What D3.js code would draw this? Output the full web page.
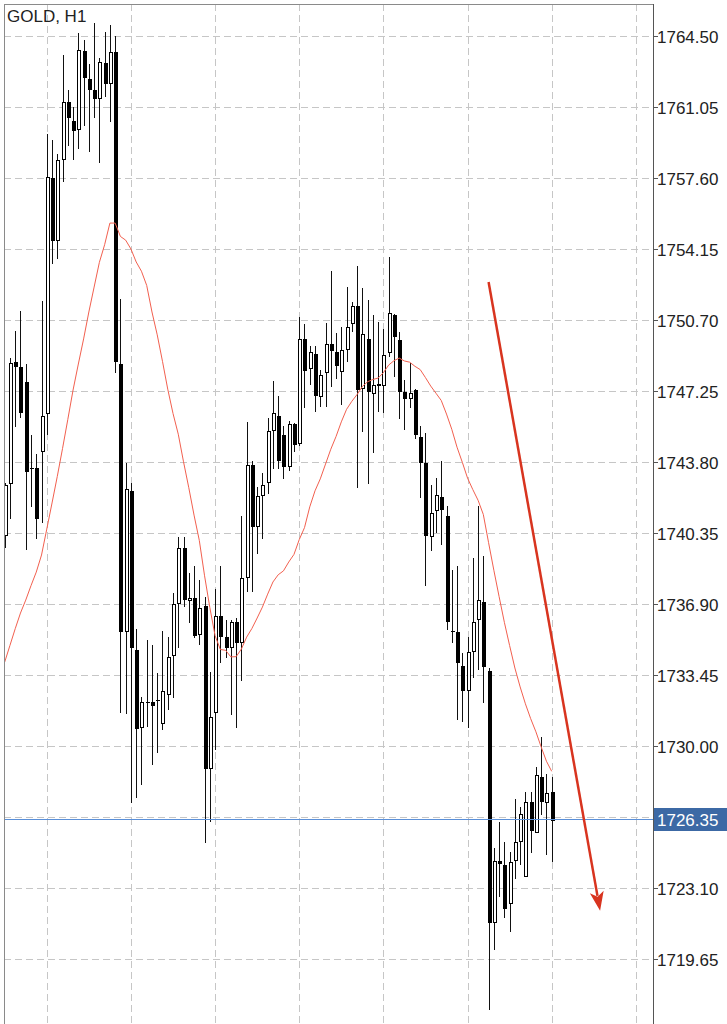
<!DOCTYPE html>
<html>
<head>
<meta charset="utf-8">
<script src="https://cdnjs.cloudflare.com/ajax/libs/d3/7.8.5/d3.min.js"></script>
<style>
  body { margin: 0; background: #fff; }
  svg { display: block; }
</style>
</head>
<body>
<script>
// GOLD H1 bars, oldest first
var opens = [1740.20,1742.73,1748.66,1748.43,1747.69,1743.50,1743.49,1744.30,1746.11,1757.59,
             1754.55,1758.47,1761.31,1760.38,1759.93,1763.79,1762.41,1761.88,1761.42,1763.17,
             1762.15,1763.71,1748.56,1735.56,1742.39,1734.67,1730.86,1732.15,1732.15,1732.19,
             1731.06,1732.48,1734.37,1736.90,1739.64,1737.05,1737.18,1735.37,1736.80,1728.90,
             1731.59,1736.32,1735.28,1734.75,1736.04,1735.02,1738.16,1743.64,1740.66,1742.14,
             1742.77,1745.31,1746.04,1745.12,1743.58,1745.65,1744.66,1749.78,1748.31,1749.03,
             1746.97,1748.14,1749.53,1749.13,1748.19,1749.24,1750.50,1751.38,1747.33,1749.80,
             1747.10,1747.59,1747.49,1749.08,1750.94,1749.73,1747.22,1746.86,1747.30,1745.03,
             1743.77,1740.17,1741.42,1742.11,1741.18,1735.56,1735.56,1733.89,1732.69,1734.58,
             1736.12,1737.01,1733.66,1721.42,1724.43,1724.22,1722.32,1724.43,1725.35,1723.65,
             1727.26,1725.79,1728.51,1727.25,1727.75];
var highs = [1742.80,1748.85,1750.17,1751.14,1748.55,1745.11,1744.19,1751.62,1759.76,1759.45,
             1758.77,1763.58,1761.88,1761.06,1764.63,1764.31,1763.13,1765.15,1763.42,1764.71,
             1765.03,1764.50,1751.72,1743.75,1742.76,1735.69,1732.40,1735.13,1734.89,1733.56,
             1735.60,1735.31,1737.42,1740.14,1740.14,1738.40,1738.75,1738.06,1737.26,1733.59,
             1737.62,1738.77,1736.10,1736.12,1736.20,1741.20,1745.75,1743.83,1742.58,1743.25,
             1745.94,1747.73,1747.00,1745.56,1745.81,1745.69,1750.83,1750.51,1749.44,1749.44,
             1748.27,1750.54,1753.08,1750.05,1750.35,1752.31,1751.59,1753.34,1752.27,1751.67,
             1750.94,1750.62,1750.25,1753.75,1751.00,1750.13,1747.78,1748.60,1747.35,1745.55,
             1745.23,1742.68,1743.01,1743.86,1741.66,1738.55,1738.75,1734.53,1735.31,1739.12,
             1741.66,1739.23,1733.81,1725.02,1726.32,1725.35,1724.87,1727.41,1727.05,1727.78,
             1727.78,1728.99,1730.42,1728.64,1728.51];
var lows = [1739.60,1741.03,1745.50,1745.95,1739.52,1741.63,1740.04,1740.82,1745.11,1753.43,
            1753.68,1757.42,1759.17,1758.47,1759.01,1760.13,1758.85,1760.50,1758.34,1761.55,
            1760.30,1748.11,1731.62,1731.54,1727.25,1727.46,1728.11,1730.94,1729.08,1729.68,
            1730.78,1731.75,1732.32,1734.75,1736.77,1736.00,1735.25,1734.93,1725.27,1726.30,
            1729.80,1734.03,1734.30,1731.50,1730.86,1733.15,1737.49,1737.49,1739.31,1740.08,
            1742.23,1743.44,1743.44,1742.96,1743.35,1744.31,1744.60,1746.41,1747.54,1746.25,
            1746.49,1746.49,1747.46,1747.82,1746.57,1748.67,1750.10,1742.52,1745.27,1742.71,
            1744.22,1746.25,1746.17,1748.91,1747.95,1745.88,1745.36,1746.41,1744.90,1742.04,
            1737.77,1739.49,1740.34,1739.77,1735.64,1735.00,1731.28,1731.18,1730.86,1733.29,
            1733.69,1732.08,1717.17,1720.09,1722.68,1721.63,1720.98,1723.52,1724.22,1723.65,
            1724.82,1725.79,1726.65,1724.70,1724.38];
var closes = [1742.70,1748.61,1748.42,1746.20,1743.33,1743.45,1741.02,1746.05,1757.65,1754.55,
              1758.47,1761.31,1760.50,1759.90,1763.82,1762.45,1761.88,1761.42,1763.22,1762.15,
              1763.71,1748.65,1735.54,1742.51,1734.78,1730.81,1732.12,1732.10,1731.96,1732.24,
              1732.69,1734.34,1736.90,1739.64,1737.09,1737.20,1735.35,1736.72,1728.87,1731.39,
              1736.33,1735.28,1734.75,1736.04,1735.02,1738.15,1743.67,1740.66,1742.14,1742.68,
              1745.31,1746.19,1743.83,1743.54,1745.65,1744.64,1749.78,1748.22,1749.13,1746.99,
              1748.02,1749.53,1749.21,1748.46,1749.24,1750.38,1751.38,1747.30,1750.00,1747.22,
              1747.54,1747.49,1748.99,1751.06,1749.89,1747.22,1746.86,1747.14,1745.11,1743.74,
              1740.20,1741.34,1742.20,1741.47,1736.04,1735.58,1734.02,1732.69,1734.58,1736.04,
              1737.09,1733.83,1721.42,1724.41,1724.27,1722.07,1724.38,1725.35,1726.70,1727.26,
              1725.87,1728.59,1727.26,1727.73,1726.35];
// red moving average, one value per bar
var ma20 = [1734.08,1734.89,1735.70,1736.46,1737.09,1737.79,1738.45,1739.28,1740.54,1741.81,
            1743.10,1744.46,1745.87,1747.30,1748.56,1749.78,1751.09,1752.30,1753.50,1754.36,
            1755.41,1755.41,1754.76,1754.58,1754.15,1753.52,1753.07,1752.38,1751.09,1749.98,
            1748.69,1747.34,1746.16,1745.15,1743.81,1742.55,1741.22,1739.99,1738.27,1736.73,
            1735.36,1734.69,1734.65,1734.33,1734.34,1734.71,1735.29,1735.71,1736.22,1736.75,
            1737.38,1737.97,1738.32,1738.51,1738.94,1739.31,1740.03,1740.61,1741.62,1742.40,
            1742.98,1743.70,1744.42,1745.04,1745.75,1746.36,1746.75,1747.08,1747.47,1747.70,
            1747.81,1747.88,1748.14,1748.51,1748.72,1748.85,1748.71,1748.65,1748.45,1748.29,
            1747.90,1747.49,1747.14,1746.79,1746.13,1745.39,1744.52,1743.79,1743.02,1742.46,
            1741.94,1741.25,1739.88,1738.54,1737.26,1736.01,1734.88,1733.79,1732.87,1732.05,
            1731.33,1730.69,1729.95,1729.26,1728.77];

var priceTicks = [1764.50,1761.05,1757.60,1754.15,1750.70,1747.25,1743.80,1740.35,
                  1736.90,1733.45,1730.00,1726.55,1723.10,1719.65];
var gridBars = [8,24,40,56,72,88,104,120];
var title = "GOLD, H1";
var lastPrice = 1726.35;
var arrowFrom = [92, 1752.55],   // [bar, price]
    arrowTo = [113.2, 1722.0];

var width = 727,
    height = 1024,
    plotLeft = 4,
    plotTop = 4,
    axisX = 653;

var x = d3.scaleLinear().domain([0, 104]).range([4.7, 551.7]);
var y = d3.scaleLinear().domain([1719.65, 1764.50]).range([959, 36]);

function px(v){ return Math.round(v) + 0.5; }

var svg = d3.select("body")
            .append("svg")
            .attr("width", width)
            .attr("height", height)
            .style("font-family", "'Liberation Sans', Arial, sans-serif");

svg.append("defs").append("clipPath")
   .attr("id", "clip")
   .append("rect")
   .attr("x", plotLeft).attr("y", plotTop)
   .attr("width", axisX - plotLeft).attr("height", height - plotTop);

// grid
var grid = svg.append("g")
              .attr("stroke", "#c6c6c6")
              .attr("stroke-dasharray", "7,4")
              .attr("shape-rendering", "crispEdges");

grid.selectAll(".hgrid")
    .data(priceTicks)
    .enter()
    .append("line")
    .attr("x1", plotLeft).attr("x2", axisX)
    .attr("y1", function(d){ return px(y(d)); })
    .attr("y2", function(d){ return px(y(d)); });

grid.selectAll(".vgrid")
    .data(gridBars)
    .enter()
    .append("line")
    .attr("x1", function(d){ return px(x(d)); })
    .attr("x2", function(d){ return px(x(d)); })
    .attr("y1", plotTop).attr("y2", height);

// candles
var bars = d3.range(opens.length).map(function(i){
  return {i: i, o: opens[i], h: highs[i], l: lows[i], c: closes[i]};
});

var plot = svg.append("g").attr("clip-path", "url(#clip)");

plot.selectAll(".wick")
    .data(bars)
    .enter()
    .append("line")
    .attr("class", "wick")
    .attr("x1", function(d){ return px(x(d.i)); })
    .attr("x2", function(d){ return px(x(d.i)); })
    .attr("y1", function(d){ return Math.round(y(d.h)); })
    .attr("y2", function(d){ return Math.round(y(d.l)); })
    .attr("stroke", "#111")
    .attr("shape-rendering", "crispEdges");

bars.forEach(function(d){
  var c = Math.round(x(d.i)),
      yTop = Math.round(y(Math.max(d.o, d.c))),
      yBot = Math.round(y(Math.min(d.o, d.c)));
  if (yBot - yTop < 2) {
    // doji
    plot.append("rect")
        .attr("x", c - 1).attr("y", yTop).attr("width", 4).attr("height", Math.max(1, yBot - yTop))
        .attr("fill", "#000");
  } else if (d.c < d.o) {
    plot.append("rect")
        .attr("x", c - 1).attr("y", yTop).attr("width", 4).attr("height", yBot - yTop)
        .attr("fill", "#000");
  } else {
    plot.append("rect")
        .attr("x", c - 0.5).attr("y", yTop + 0.5).attr("width", 3).attr("height", yBot - yTop - 1)
        .attr("fill", "#fff").attr("stroke", "#000").attr("stroke-width", 1);
  }
});

// moving average
var maLine = d3.line()
               .x(function(d, i){ return x(i); })
               .y(function(d){ return y(d); });

plot.append("path")
    .datum(ma20)
    .attr("d", maLine)
    .attr("fill", "none")
    .attr("stroke", "#f2604f")
    .attr("stroke-width", 1);

// last price line
var ly = px(y(lastPrice)) - 2;
plot.append("line")
    .attr("x1", plotLeft).attr("x2", axisX)
    .attr("y1", ly).attr("y2", ly)
    .attr("stroke", "#5a8fd8")
    .attr("shape-rendering", "crispEdges");

// trend arrow
var ax0 = x(arrowFrom[0]), ay0 = y(arrowFrom[1]),
    ax1 = x(arrowTo[0]), ay1 = y(arrowTo[1]);
var ang = Math.atan2(ay1 - ay0, ax1 - ax0),
    headLen = 19, headHalf = 7;
var bx = ax1 - headLen * Math.cos(ang), by = ay1 - headLen * Math.sin(ang);

plot.append("line")
    .attr("x1", ax0).attr("y1", ay0)
    .attr("x2", bx + 4 * Math.cos(ang)).attr("y2", by + 4 * Math.sin(ang))
    .attr("stroke", "#d8341f")
    .attr("stroke-width", 2.5);

plot.append("path")
    .attr("d", "M" + ax1 + "," + ay1 +
               "L" + (bx - headHalf * Math.sin(ang)) + "," + (by + headHalf * Math.cos(ang)) +
               "L" + (bx + 5 * Math.cos(ang)) + "," + (by + 5 * Math.sin(ang)) +
               "L" + (bx + headHalf * Math.sin(ang)) + "," + (by - headHalf * Math.cos(ang)) + "Z")
    .attr("fill", "#d8341f");

// frame and price axis
svg.append("line")
   .attr("x1", plotLeft).attr("x2", axisX)
   .attr("y1", plotTop + 0.5).attr("y2", plotTop + 0.5)
   .attr("stroke", "#8a8a8a");
svg.append("line")
   .attr("x1", plotLeft + 0.5).attr("x2", plotLeft + 0.5)
   .attr("y1", plotTop).attr("y2", height)
   .attr("stroke", "#8a8a8a");
svg.append("line")
   .attr("x1", axisX + 0.5).attr("x2", axisX + 0.5)
   .attr("y1", plotTop).attr("y2", height)
   .attr("stroke", "#555");

var axis = svg.append("g");

axis.selectAll(".tick")
    .data(priceTicks)
    .enter()
    .append("line")
    .attr("x1", axisX).attr("x2", axisX + 5)
    .attr("y1", function(d){ return px(y(d)); })
    .attr("y2", function(d){ return px(y(d)); })
    .attr("stroke", "#555")
    .attr("shape-rendering", "crispEdges");

// tick labels; the one under the last-price box is hidden, as on the terminal
axis.selectAll(".label")
    .data(priceTicks.filter(function(d){ return Math.abs(y(d) - y(lastPrice)) > 16; }))
    .enter()
    .append("text")
    .attr("x", axisX + 4)
    .attr("y", function(d){ return y(d) + 6.5; })
    .attr("font-size", 17)
    .attr("fill", "#222")
    .text(function(d){ return d.toFixed(2); });

// last price label
axis.append("rect")
    .attr("x", axisX + 1).attr("y", Math.round(ly) - 12)
    .attr("width", width - axisX - 1).attr("height", 23)
    .attr("fill", "#3c69a5");
axis.append("text")
    .attr("x", axisX + 4)
    .attr("y", ly + 6)
    .attr("font-size", 17)
    .attr("fill", "#fff")
    .text(lastPrice.toFixed(2));

svg.append("text")
   .attr("x", 7)
   .attr("y", 22)
   .attr("font-size", 17)
   .attr("fill", "#222")
   .text(title);
</script>
</body>
</html>
